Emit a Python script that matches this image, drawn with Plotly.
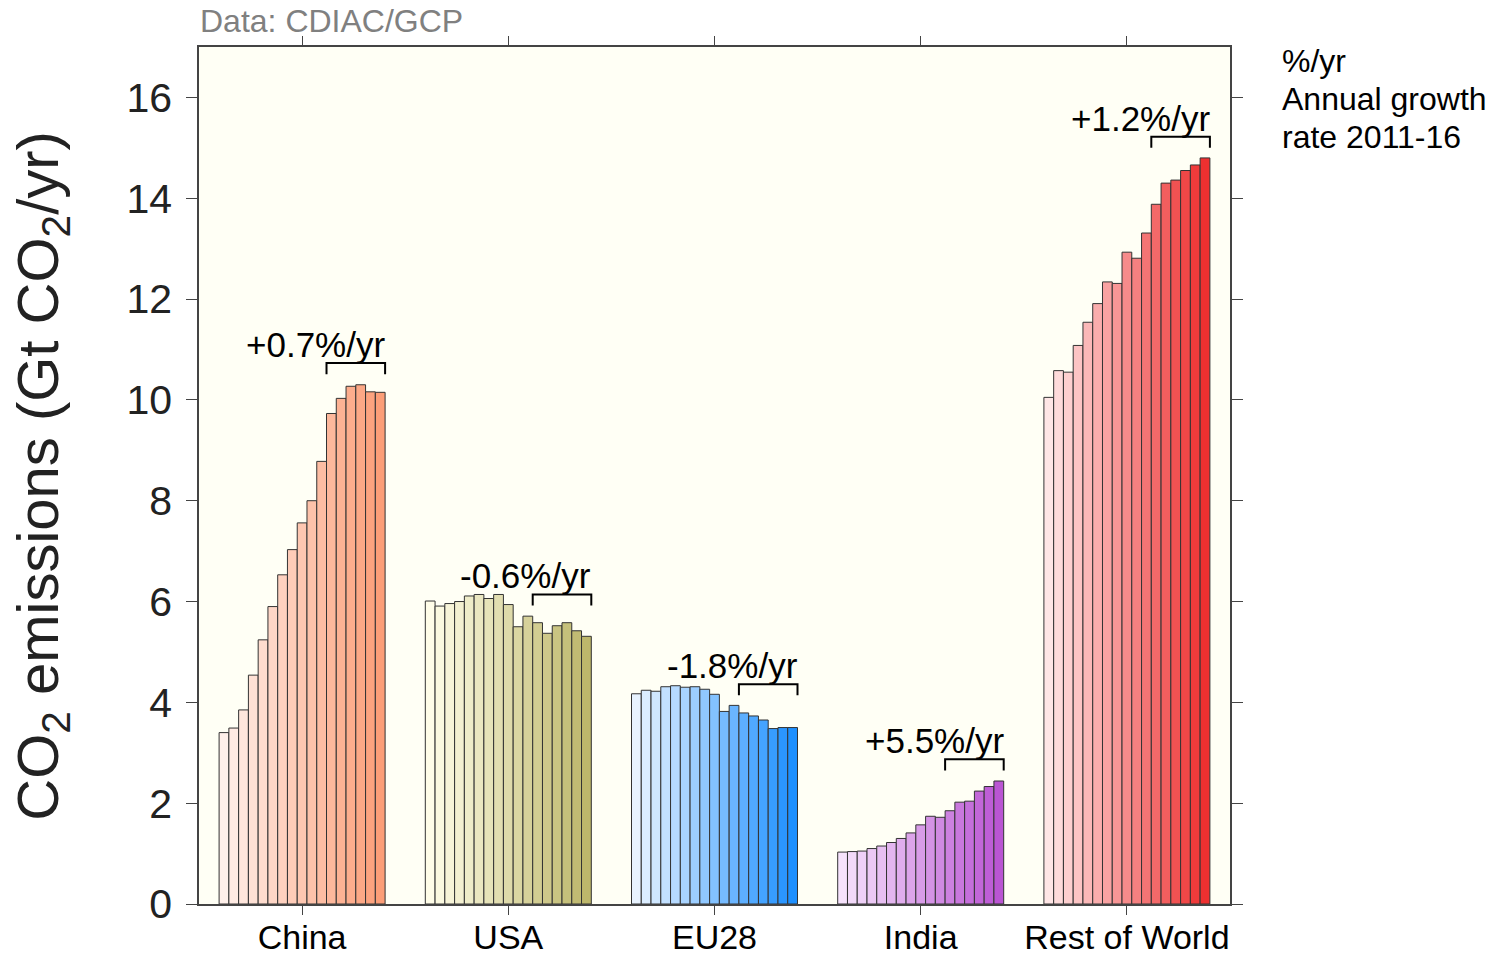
"""CO2 emissions by region, 2000-2016, with 2011-16 growth rates."""

import plotly.graph_objects as go

YEARS = list(range(2000, 2017))
REGIONS = ["China", "USA", "EU28", "India", "Rest of World"]

CHINA = [3.40, 3.49, 3.85, 4.54, 5.24, 5.90, 6.53, 7.03, 7.56, 8.00, 8.78, 9.73, 10.03, 10.27, 10.30, 10.16, 10.15]
USA = [6.01, 5.91, 5.96, 6.00, 6.11, 6.14, 6.06, 6.14, 5.94, 5.50, 5.71, 5.58, 5.37, 5.52, 5.58, 5.42, 5.31]
EU28 = [4.17, 4.24, 4.22, 4.31, 4.33, 4.30, 4.31, 4.26, 4.16, 3.82, 3.94, 3.79, 3.73, 3.65, 3.48, 3.50, 3.50]
INDIA = [1.03, 1.04, 1.05, 1.10, 1.15, 1.22, 1.30, 1.41, 1.57, 1.74, 1.72, 1.85, 2.02, 2.04, 2.24, 2.33, 2.44]
ROW = [10.05, 10.58, 10.55, 11.08, 11.54, 11.91, 12.34, 12.31, 12.93, 12.81, 13.31, 13.88, 14.30, 14.36, 14.55, 14.66, 14.80]

GROWTH_LABELS = ["+0.7%/yr", "-0.6%/yr", "-1.8%/yr", "+5.5%/yr", "+1.2%/yr"]
BRACKET_LEVELS = [10.73, 6.14, 4.36, 2.87, 15.22]
GROWTH_START = 2011
NOTE_LINES = ["%/yr", "Annual growth", "rate 2011-16"]

# light -> dark colour per region
COLOR_RAMPS = [
    ((255, 240, 234), (252, 158, 120)),
    ((255, 253, 232), (189, 183, 107)),
    ((232, 243, 255), (30, 144, 255)),
    ((246, 226, 252), (186, 85, 211)),
    ((255, 230, 230), (238, 48, 48)),
]

FONT = "Liberation Sans, Arial, Helvetica, sans-serif"
BARGAP = 0.195
EDGE = "#333333"
AXIS = "#444444"


def ramp(lo, hi, t):
    r, g, b = (round(a + (c - a) * t) for a, c in zip(lo, hi))
    return f"rgb({r},{g},{b})"


series = [CHINA, USA, EU28, INDIA, ROW]
n_years = len(YEARS)

fig = go.Figure()
for i, year in enumerate(YEARS):
    t = i / (n_years - 1)
    fig.add_trace(
        go.Bar(
            x=REGIONS,
            y=[s[i] for s in series],
            name=str(year),
            marker=dict(
                color=[ramp(lo, hi, t) for lo, hi in COLOR_RAMPS],
                line=dict(color=EDGE, width=1),
            ),
            showlegend=False,
        )
    )

# growth-rate brackets over 2011-2016
half = (1 - BARGAP) / 2
bar_w = (1 - BARGAP) / n_years
tick_h = 0.22
start_idx = YEARS.index(GROWTH_START)
for g, (label, level) in enumerate(zip(GROWTH_LABELS, BRACKET_LEVELS)):
    x0 = g - half + start_idx * bar_w
    x1 = g + half
    fig.add_shape(
        type="path",
        path=f"M {x0},{level - tick_h} L {x0},{level} L {x1},{level} L {x1},{level - tick_h}",
        xref="x",
        yref="y",
        line=dict(color="black", width=2),
    )
    fig.add_annotation(
        x=x1,
        y=level,
        xref="x",
        yref="y",
        text=label,
        showarrow=False,
        xanchor="right",
        yanchor="bottom",
        yshift=-3,
        xshift=2,
        font=dict(family=FONT, size=35, color="black"),
    )

fig.add_annotation(
    x=0, y=1.0, xref="paper", yref="paper",
    text="Data: CDIAC/GCP", showarrow=False,
    xanchor="left", yanchor="middle", yshift=26, xshift=-1,
    font=dict(family=FONT, size=32, color="#808080"),
)
for k, line in enumerate(NOTE_LINES):
    fig.add_annotation(
        x=1.0, y=1.0, xref="paper", yref="paper",
        text=line, showarrow=False,
        xanchor="left", yanchor="middle", xshift=50, yshift=-14 - 38 * k,
        font=dict(family=FONT, size=32, color="black"),
    )
fig.add_annotation(
    x=-0.153, y=0.5, xref="paper", yref="paper",
    text="CO<sub>2</sub> emissions (Gt CO<sub>2</sub>/yr)", showarrow=False,
    textangle=-90, xanchor="center", yanchor="middle",
    font=dict(family=FONT, size=58, color="#222222"),
)

fig.update_layout(
    width=1504,
    height=956,
    barmode="group",
    bargap=BARGAP,
    bargroupgap=0,
    plot_bgcolor="#fffff5",
    paper_bgcolor="white",
    margin=dict(l=199, r=274, t=47, b=52, autoexpand=False),
    font=dict(family=FONT, color="#222222"),
    modebar=dict(bgcolor="rgba(0,0,0,0)", color="rgba(0,0,0,0)", activecolor="rgba(0,0,0,0)"),
    xaxis=dict(
        range=[-0.5, 4.5],
        automargin=False,
        showline=True,
        linecolor=AXIS,
        linewidth=1.5,
        mirror="ticks",
        ticks="outside",
        ticklen=9,
        tickcolor=AXIS,
        ticklabelstandoff=-7,
        tickfont=dict(size=34, color="black"),
        showgrid=False,
    ),
    yaxis=dict(
        range=[0, 17],
        dtick=2,
        automargin=False,
        showline=True,
        linecolor=AXIS,
        linewidth=1.5,
        mirror="ticks",
        ticks="outside",
        ticklen=11,
        tickcolor=AXIS,
        ticklabelstandoff=6,
        tickfont=dict(size=41, color="#222222"),
        showgrid=False,
        zeroline=False,
    ),
)

fig.write_html(
    "out.html",
    config={"displayModeBar": False},
    post_script="document.body.style.margin = '0px';",
)
